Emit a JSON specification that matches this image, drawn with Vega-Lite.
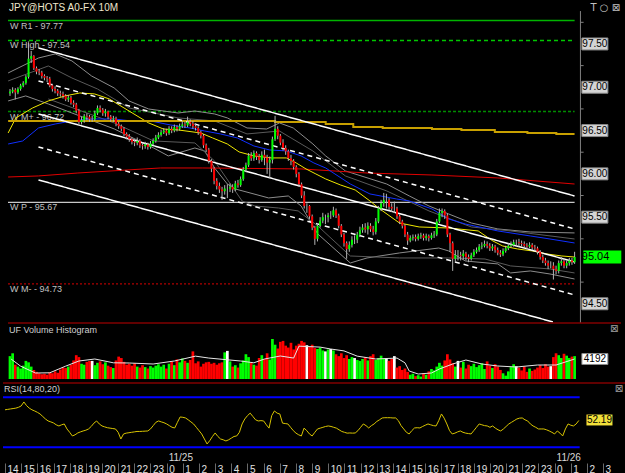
{
"$schema":"https://vega.github.io/schema/vega-lite/v6.json",
"background":"#000000",
"padding":{"left":2,"top":2,"right":0,"bottom":0},
"spacing":0,
"bounds":"flush",
"config":{"view":{"stroke":null},"text":{"font":"Liberation Sans"}},
"datasets":{
"bars":[
{"i":0,"o":96.93,"h":96.98,"l":96.90,"c":96.95,"v":4800,"r":65},
{"i":1,"o":96.95,"h":97.00,"l":96.93,"c":96.97,"v":5400,"r":65.5},
{"i":2,"o":96.97,"h":96.99,"l":96.86,"c":96.94,"v":3000,"r":66},
{"i":3,"o":96.94,"h":97.00,"l":96.92,"c":96.98,"v":2600,"r":66.5},
{"i":4,"o":96.98,"h":97.04,"l":96.96,"c":97.02,"v":2200,"r":67},
{"i":5,"o":97.02,"h":97.07,"l":97.00,"c":97.05,"v":2800,"r":68},
{"i":6,"o":97.05,"h":97.14,"l":97.03,"c":97.12,"v":3800,"r":69.6},
{"i":7,"o":97.12,"h":97.52,"l":97.10,"c":97.33,"v":3500,"r":74.4},
{"i":8,"o":97.33,"h":97.42,"l":97.28,"c":97.36,"v":2600,"r":70},
{"i":9,"o":97.36,"h":97.37,"l":97.20,"c":97.22,"v":1900,"r":67},
{"i":10,"o":97.22,"h":97.24,"l":97.15,"c":97.18,"v":1500,"r":65},
{"i":11,"o":97.18,"h":97.21,"l":97.14,"c":97.17,"v":1200,"r":63.6},
{"i":12,"o":97.17,"h":97.19,"l":97.10,"c":97.13,"v":1000,"r":62},
{"i":13,"o":97.13,"h":97.15,"l":97.08,"c":97.11,"v":1100,"r":60},
{"i":14,"o":97.11,"h":97.13,"l":97.06,"c":97.10,"v":900,"r":57},
{"i":15,"o":97.10,"h":97.12,"l":97.00,"c":97.02,"v":1400,"r":54},
{"i":16,"o":97.02,"h":97.04,"l":96.95,"c":96.98,"v":1200,"r":51.6},
{"i":17,"o":96.98,"h":97.01,"l":96.93,"c":96.96,"v":1600,"r":50.5},
{"i":18,"o":96.96,"h":96.98,"l":96.90,"c":96.93,"v":1300,"r":49.2},
{"i":19,"o":96.93,"h":96.96,"l":96.89,"c":96.92,"v":2000,"r":47},
{"i":20,"o":96.92,"h":96.95,"l":96.87,"c":96.90,"v":2400,"r":45.6},
{"i":21,"o":96.90,"h":96.92,"l":96.84,"c":96.86,"v":2300,"r":47},
{"i":22,"o":96.86,"h":96.91,"l":96.83,"c":96.88,"v":2600,"r":48},
{"i":23,"o":96.88,"h":96.90,"l":96.80,"c":96.82,"v":3000,"r":42},
{"i":24,"o":96.82,"h":96.85,"l":96.77,"c":96.80,"v":3900,"r":38},
{"i":25,"o":96.80,"h":96.82,"l":96.70,"c":96.73,"v":5000,"r":33.6},
{"i":26,"o":96.73,"h":96.75,"l":96.57,"c":96.60,"v":4600,"r":35},
{"i":27,"o":96.60,"h":96.66,"l":96.57,"c":96.62,"v":3200,"r":37.2},
{"i":28,"o":96.62,"h":96.69,"l":96.59,"c":96.67,"v":3000,"r":38.5},
{"i":29,"o":96.67,"h":96.70,"l":96.62,"c":96.66,"v":3600,"r":39.6},
{"i":30,"o":96.66,"h":96.68,"l":96.60,"c":96.63,"v":3800,"r":40.5},
{"i":31,"o":96.63,"h":96.67,"l":96.60,"c":96.63,"v":3800,"r":42},
{"i":32,"o":96.63,"h":96.73,"l":96.61,"c":96.70,"v":2900,"r":45},
{"i":33,"o":96.70,"h":96.79,"l":96.68,"c":96.76,"v":3400,"r":49},
{"i":34,"o":96.76,"h":96.79,"l":96.71,"c":96.74,"v":3700,"r":51.6},
{"i":35,"o":96.74,"h":96.76,"l":96.67,"c":96.70,"v":3100,"r":48},
{"i":36,"o":96.70,"h":96.75,"l":96.66,"c":96.72,"v":3500,"r":45.6},
{"i":37,"o":96.72,"h":96.73,"l":96.63,"c":96.66,"v":2800,"r":44.5},
{"i":38,"o":96.66,"h":96.68,"l":96.60,"c":96.63,"v":2500,"r":43.5},
{"i":39,"o":96.63,"h":96.67,"l":96.60,"c":96.64,"v":2300,"r":43},
{"i":40,"o":96.64,"h":96.66,"l":96.55,"c":96.58,"v":3900,"r":42.5},
{"i":41,"o":96.58,"h":96.60,"l":96.52,"c":96.55,"v":4700,"r":42},
{"i":42,"o":96.55,"h":96.57,"l":96.49,"c":96.52,"v":4400,"r":38},
{"i":43,"o":96.52,"h":96.54,"l":96.43,"c":96.46,"v":3600,"r":30},
{"i":44,"o":96.46,"h":96.48,"l":96.40,"c":96.43,"v":3000,"r":36},
{"i":45,"o":96.43,"h":96.46,"l":96.37,"c":96.40,"v":3200,"r":37},
{"i":46,"o":96.40,"h":96.42,"l":96.34,"c":96.37,"v":2800,"r":37.5},
{"i":47,"o":96.37,"h":96.40,"l":96.32,"c":96.36,"v":3300,"r":38},
{"i":48,"o":96.36,"h":96.42,"l":96.33,"c":96.38,"v":2600,"r":38.5},
{"i":49,"o":96.38,"h":96.40,"l":96.30,"c":96.33,"v":2400,"r":39},
{"i":50,"o":96.33,"h":96.36,"l":96.28,"c":96.32,"v":2900,"r":39},
{"i":51,"o":96.32,"h":96.37,"l":96.29,"c":96.34,"v":2500,"r":39.2},
{"i":52,"o":96.34,"h":96.36,"l":96.28,"c":96.31,"v":2200,"r":39.4},
{"i":53,"o":96.31,"h":96.38,"l":96.29,"c":96.35,"v":2700,"r":39.6},
{"i":54,"o":96.35,"h":96.41,"l":96.33,"c":96.38,"v":2400,"r":42},
{"i":55,"o":96.38,"h":96.45,"l":96.36,"c":96.42,"v":2800,"r":46},
{"i":56,"o":96.42,"h":96.48,"l":96.40,"c":96.45,"v":3100,"r":50},
{"i":57,"o":96.45,"h":96.51,"l":96.43,"c":96.48,"v":2600,"r":51.6},
{"i":58,"o":96.48,"h":96.53,"l":96.46,"c":96.50,"v":3000,"r":50.5},
{"i":59,"o":96.50,"h":96.52,"l":96.44,"c":96.47,"v":2200,"r":49.5},
{"i":60,"o":96.47,"h":96.55,"l":96.45,"c":96.52,"v":3200,"r":48},
{"i":61,"o":96.52,"h":96.55,"l":96.47,"c":96.50,"v":3600,"r":46},
{"i":62,"o":96.50,"h":96.57,"l":96.48,"c":96.54,"v":2900,"r":44},
{"i":63,"o":96.54,"h":96.56,"l":96.49,"c":96.52,"v":4100,"r":43.2},
{"i":64,"o":96.52,"h":96.58,"l":96.50,"c":96.55,"v":3500,"r":50},
{"i":65,"o":96.55,"h":96.61,"l":96.53,"c":96.57,"v":4300,"r":56.4},
{"i":66,"o":96.57,"h":96.60,"l":96.53,"c":96.56,"v":3800,"r":56},
{"i":67,"o":96.56,"h":96.66,"l":96.54,"c":96.60,"v":3400,"r":55.2},
{"i":68,"o":96.60,"h":96.63,"l":96.55,"c":96.58,"v":4000,"r":53},
{"i":69,"o":96.58,"h":96.61,"l":96.52,"c":96.55,"v":5800,"r":50.5},
{"i":70,"o":96.55,"h":96.58,"l":96.50,"c":96.53,"v":3300,"r":48},
{"i":71,"o":96.53,"h":96.55,"l":96.45,"c":96.48,"v":3700,"r":44},
{"i":72,"o":96.48,"h":96.50,"l":96.41,"c":96.44,"v":2600,"r":40},
{"i":73,"o":96.44,"h":96.46,"l":96.30,"c":96.33,"v":3200,"r":36},
{"i":74,"o":96.33,"h":96.35,"l":96.25,"c":96.28,"v":3500,"r":30},
{"i":75,"o":96.28,"h":96.30,"l":96.12,"c":96.15,"v":3600,"r":24},
{"i":76,"o":96.15,"h":96.17,"l":96.02,"c":96.06,"v":3200,"r":28},
{"i":77,"o":96.06,"h":96.08,"l":95.88,"c":95.92,"v":3400,"r":33},
{"i":78,"o":95.92,"h":95.95,"l":95.82,"c":95.86,"v":3000,"r":37.2},
{"i":79,"o":95.86,"h":95.90,"l":95.78,"c":95.82,"v":3300,"r":33},
{"i":80,"o":95.82,"h":95.85,"l":95.70,"c":95.80,"v":3500,"r":30},
{"i":81,"o":95.80,"h":95.87,"l":95.76,"c":95.83,"v":5600,"r":29},
{"i":82,"o":95.83,"h":95.88,"l":95.72,"c":95.83,"v":5900,"r":27.6},
{"i":83,"o":95.83,"h":95.89,"l":95.79,"c":95.85,"v":3700,"r":29},
{"i":84,"o":95.85,"h":95.88,"l":95.78,"c":95.82,"v":2600,"r":31},
{"i":85,"o":95.82,"h":95.92,"l":95.80,"c":95.89,"v":2900,"r":33},
{"i":86,"o":95.89,"h":95.93,"l":95.84,"c":95.87,"v":2400,"r":33.6},
{"i":87,"o":95.87,"h":95.97,"l":95.85,"c":95.94,"v":3300,"r":38},
{"i":88,"o":95.94,"h":96.08,"l":95.92,"c":96.05,"v":3900,"r":48},
{"i":89,"o":96.05,"h":96.13,"l":96.02,"c":96.10,"v":5200,"r":54},
{"i":90,"o":96.10,"h":96.24,"l":96.08,"c":96.21,"v":4600,"r":58},
{"i":91,"o":96.21,"h":96.25,"l":96.15,"c":96.18,"v":3400,"r":61},
{"i":92,"o":96.18,"h":96.27,"l":96.15,"c":96.24,"v":3000,"r":57},
{"i":93,"o":96.24,"h":96.26,"l":96.16,"c":96.20,"v":2800,"r":53},
{"i":94,"o":96.20,"h":96.23,"l":96.12,"c":96.16,"v":4400,"r":51.6},
{"i":95,"o":96.16,"h":96.26,"l":96.14,"c":96.22,"v":5000,"r":52},
{"i":96,"o":96.22,"h":96.28,"l":96.10,"c":96.19,"v":4200,"r":51.6},
{"i":97,"o":96.19,"h":96.22,"l":96.00,"c":96.13,"v":5400,"r":47},
{"i":98,"o":96.13,"h":96.20,"l":95.95,"c":96.16,"v":4100,"r":43},
{"i":99,"o":96.16,"h":96.43,"l":96.12,"c":96.40,"v":8400,"r":58},
{"i":100,"o":96.40,"h":96.67,"l":96.38,"c":96.52,"v":7200,"r":63.6},
{"i":101,"o":96.52,"h":96.55,"l":96.40,"c":96.44,"v":6400,"r":61},
{"i":102,"o":96.44,"h":96.46,"l":96.33,"c":96.36,"v":7800,"r":60},
{"i":103,"o":96.36,"h":96.40,"l":96.27,"c":96.30,"v":8000,"r":49},
{"i":104,"o":96.30,"h":96.33,"l":96.22,"c":96.26,"v":7000,"r":48.5},
{"i":105,"o":96.26,"h":96.28,"l":96.15,"c":96.18,"v":6600,"r":48},
{"i":106,"o":96.18,"h":96.22,"l":96.10,"c":96.15,"v":7600,"r":44},
{"i":107,"o":96.15,"h":96.17,"l":96.05,"c":96.08,"v":6200,"r":40},
{"i":108,"o":96.08,"h":96.10,"l":95.96,"c":96.00,"v":7000,"r":37},
{"i":109,"o":96.00,"h":96.02,"l":95.85,"c":95.88,"v":7400,"r":35},
{"i":110,"o":95.88,"h":95.90,"l":95.72,"c":95.75,"v":8000,"r":33.6},
{"i":111,"o":95.75,"h":95.80,"l":95.60,"c":95.63,"v":7700,"r":43},
{"i":112,"o":95.63,"h":95.66,"l":95.55,"c":95.63,"v":7100,"r":40},
{"i":113,"o":95.63,"h":95.64,"l":95.48,"c":95.51,"v":6800,"r":36},
{"i":114,"o":95.51,"h":95.53,"l":95.35,"c":95.38,"v":7200,"r":33.6},
{"i":115,"o":95.38,"h":95.40,"l":95.18,"c":95.25,"v":6500,"r":38},
{"i":116,"o":95.25,"h":95.43,"l":95.22,"c":95.40,"v":6300,"r":42},
{"i":117,"o":95.40,"h":95.50,"l":95.38,"c":95.46,"v":6600,"r":43},
{"i":118,"o":95.46,"h":95.55,"l":95.43,"c":95.50,"v":6000,"r":44},
{"i":119,"o":95.50,"h":95.53,"l":95.42,"c":95.50,"v":5800,"r":45},
{"i":120,"o":95.50,"h":95.55,"l":95.44,"c":95.52,"v":6200,"r":45.6},
{"i":121,"o":95.52,"h":95.57,"l":95.48,"c":95.52,"v":6300,"r":45},
{"i":122,"o":95.52,"h":95.62,"l":95.50,"c":95.58,"v":6000,"r":44},
{"i":123,"o":95.58,"h":95.60,"l":95.49,"c":95.52,"v":5200,"r":43},
{"i":124,"o":95.52,"h":95.54,"l":95.37,"c":95.40,"v":4800,"r":41},
{"i":125,"o":95.40,"h":95.42,"l":95.27,"c":95.30,"v":5400,"r":39},
{"i":126,"o":95.30,"h":95.32,"l":95.16,"c":95.20,"v":4400,"r":38},
{"i":127,"o":95.20,"h":95.22,"l":95.02,"c":95.13,"v":5000,"r":37},
{"i":128,"o":95.13,"h":95.22,"l":95.10,"c":95.18,"v":4200,"r":37.2},
{"i":129,"o":95.18,"h":95.28,"l":95.15,"c":95.24,"v":4600,"r":37},
{"i":130,"o":95.24,"h":95.29,"l":95.19,"c":95.24,"v":4400,"r":37.2},
{"i":131,"o":95.24,"h":95.33,"l":95.20,"c":95.30,"v":4000,"r":40},
{"i":132,"o":95.30,"h":95.39,"l":95.27,"c":95.35,"v":3800,"r":44},
{"i":133,"o":95.35,"h":95.42,"l":95.32,"c":95.38,"v":4200,"r":48},
{"i":134,"o":95.38,"h":95.43,"l":95.32,"c":95.36,"v":4600,"r":46},
{"i":135,"o":95.36,"h":95.44,"l":95.30,"c":95.40,"v":3900,"r":43.2},
{"i":136,"o":95.40,"h":95.43,"l":95.33,"c":95.36,"v":4800,"r":46},
{"i":137,"o":95.36,"h":95.40,"l":95.29,"c":95.33,"v":5200,"r":48},
{"i":138,"o":95.33,"h":95.49,"l":95.30,"c":95.45,"v":4000,"r":51},
{"i":139,"o":95.45,"h":95.63,"l":95.43,"c":95.60,"v":4400,"r":53},
{"i":140,"o":95.60,"h":95.70,"l":95.57,"c":95.66,"v":4900,"r":55.2},
{"i":141,"o":95.66,"h":95.78,"l":95.62,"c":95.70,"v":4300,"r":55.5},
{"i":142,"o":95.70,"h":95.77,"l":95.60,"c":95.70,"v":4400,"r":55.5},
{"i":143,"o":95.70,"h":95.72,"l":95.58,"c":95.62,"v":3800,"r":55.5},
{"i":144,"o":95.62,"h":95.66,"l":95.56,"c":95.60,"v":4200,"r":55.2},
{"i":145,"o":95.60,"h":95.68,"l":95.55,"c":95.60,"v":4800,"r":55.2},
{"i":146,"o":95.60,"h":95.62,"l":95.48,"c":95.51,"v":2400,"r":52},
{"i":147,"o":95.51,"h":95.53,"l":95.42,"c":95.45,"v":2700,"r":46},
{"i":148,"o":95.45,"h":95.47,"l":95.37,"c":95.40,"v":1900,"r":42},
{"i":149,"o":95.40,"h":95.42,"l":95.27,"c":95.30,"v":2200,"r":38},
{"i":150,"o":95.30,"h":95.33,"l":95.18,"c":95.23,"v":1500,"r":36},
{"i":151,"o":95.23,"h":95.29,"l":95.21,"c":95.26,"v":900,"r":40},
{"i":152,"o":95.26,"h":95.30,"l":95.23,"c":95.27,"v":1100,"r":43.2},
{"i":153,"o":95.27,"h":95.30,"l":95.22,"c":95.25,"v":600,"r":43.5},
{"i":154,"o":95.25,"h":95.31,"l":95.23,"c":95.28,"v":800,"r":43.2},
{"i":155,"o":95.28,"h":95.32,"l":95.25,"c":95.29,"v":500,"r":45},
{"i":156,"o":95.29,"h":95.31,"l":95.23,"c":95.26,"v":1200,"r":46.5},
{"i":157,"o":95.26,"h":95.31,"l":95.23,"c":95.28,"v":900,"r":48},
{"i":158,"o":95.28,"h":95.30,"l":95.22,"c":95.26,"v":1600,"r":47},
{"i":159,"o":95.26,"h":95.32,"l":95.24,"c":95.29,"v":2100,"r":46},
{"i":160,"o":95.29,"h":95.34,"l":95.26,"c":95.30,"v":1800,"r":45.6},
{"i":161,"o":95.30,"h":95.48,"l":95.28,"c":95.45,"v":2600,"r":52},
{"i":162,"o":95.45,"h":95.60,"l":95.43,"c":95.55,"v":3400,"r":60},
{"i":163,"o":95.55,"h":95.60,"l":95.50,"c":95.57,"v":2800,"r":55},
{"i":164,"o":95.57,"h":95.59,"l":95.48,"c":95.52,"v":3900,"r":48},
{"i":165,"o":95.52,"h":95.54,"l":95.27,"c":95.30,"v":5200,"r":40},
{"i":166,"o":95.30,"h":95.32,"l":95.10,"c":95.20,"v":4100,"r":36},
{"i":167,"o":95.20,"h":95.22,"l":94.88,"c":95.02,"v":3300,"r":37},
{"i":168,"o":95.02,"h":95.12,"l":94.98,"c":95.06,"v":2600,"r":38.5},
{"i":169,"o":95.06,"h":95.12,"l":95.00,"c":95.06,"v":3800,"r":39.6},
{"i":170,"o":95.06,"h":95.10,"l":95.00,"c":95.05,"v":2400,"r":38},
{"i":171,"o":95.05,"h":95.12,"l":95.01,"c":95.08,"v":3600,"r":37},
{"i":172,"o":95.08,"h":95.10,"l":95.00,"c":95.04,"v":2200,"r":36.5},
{"i":173,"o":95.04,"h":95.07,"l":94.98,"c":95.02,"v":3000,"r":36},
{"i":174,"o":95.02,"h":95.09,"l":95.00,"c":95.06,"v":2700,"r":40},
{"i":175,"o":95.06,"h":95.13,"l":95.04,"c":95.10,"v":3200,"r":44},
{"i":176,"o":95.10,"h":95.15,"l":95.08,"c":95.12,"v":2500,"r":48},
{"i":177,"o":95.12,"h":95.19,"l":95.10,"c":95.16,"v":2900,"r":47},
{"i":178,"o":95.16,"h":95.21,"l":95.13,"c":95.17,"v":3300,"r":46},
{"i":179,"o":95.17,"h":95.23,"l":95.15,"c":95.19,"v":2100,"r":45.6},
{"i":180,"o":95.19,"h":95.22,"l":95.14,"c":95.17,"v":3700,"r":44},
{"i":181,"o":95.17,"h":95.20,"l":95.11,"c":95.14,"v":2800,"r":45.6},
{"i":182,"o":95.14,"h":95.19,"l":95.11,"c":95.16,"v":2300,"r":43},
{"i":183,"o":95.16,"h":95.18,"l":95.09,"c":95.12,"v":3100,"r":41},
{"i":184,"o":95.12,"h":95.15,"l":95.06,"c":95.09,"v":2600,"r":39.6},
{"i":185,"o":95.09,"h":95.12,"l":95.04,"c":95.07,"v":1900,"r":42},
{"i":186,"o":95.07,"h":95.14,"l":95.05,"c":95.11,"v":1200,"r":45},
{"i":187,"o":95.11,"h":95.17,"l":95.09,"c":95.14,"v":700,"r":48},
{"i":188,"o":95.14,"h":95.20,"l":95.12,"c":95.17,"v":1600,"r":50},
{"i":189,"o":95.17,"h":95.22,"l":95.15,"c":95.18,"v":2500,"r":52},
{"i":190,"o":95.18,"h":95.24,"l":95.16,"c":95.21,"v":3100,"r":54},
{"i":191,"o":95.21,"h":95.24,"l":95.17,"c":95.21,"v":2700,"r":55},
{"i":192,"o":95.21,"h":95.25,"l":95.16,"c":95.20,"v":2400,"r":55.2},
{"i":193,"o":95.20,"h":95.23,"l":95.16,"c":95.19,"v":1800,"r":53},
{"i":194,"o":95.19,"h":95.22,"l":95.14,"c":95.17,"v":2600,"r":51.6},
{"i":195,"o":95.17,"h":95.20,"l":95.13,"c":95.16,"v":1500,"r":48},
{"i":196,"o":95.16,"h":95.21,"l":95.14,"c":95.18,"v":2200,"r":45.6},
{"i":197,"o":95.18,"h":95.20,"l":95.12,"c":95.15,"v":1700,"r":44},
{"i":198,"o":95.15,"h":95.18,"l":95.11,"c":95.14,"v":2000,"r":42},
{"i":199,"o":95.14,"h":95.16,"l":95.07,"c":95.10,"v":2400,"r":42},
{"i":200,"o":95.10,"h":95.12,"l":95.01,"c":95.04,"v":2900,"r":42},
{"i":201,"o":95.04,"h":95.07,"l":94.97,"c":95.00,"v":2300,"r":41},
{"i":202,"o":95.00,"h":95.03,"l":94.94,"c":94.97,"v":3100,"r":39.6},
{"i":203,"o":94.97,"h":95.00,"l":94.90,"c":94.94,"v":2600,"r":38},
{"i":204,"o":94.94,"h":94.99,"l":94.91,"c":94.94,"v":2700,"r":36},
{"i":205,"o":94.94,"h":94.98,"l":94.78,"c":94.90,"v":4600,"r":39.6},
{"i":206,"o":94.90,"h":94.94,"l":94.84,"c":94.88,"v":5400,"r":37},
{"i":207,"o":94.88,"h":95.00,"l":94.85,"c":94.97,"v":5000,"r":33.6},
{"i":208,"o":94.97,"h":95.04,"l":94.94,"c":94.99,"v":4400,"r":42},
{"i":209,"o":94.99,"h":95.02,"l":94.91,"c":94.94,"v":5300,"r":48},
{"i":210,"o":94.94,"h":95.00,"l":94.91,"c":94.97,"v":4900,"r":46.5},
{"i":211,"o":94.97,"h":95.03,"l":94.94,"c":95.00,"v":4400,"r":45.6},
{"i":212,"o":95.00,"h":95.03,"l":94.95,"c":94.98,"v":4700,"r":48},
{"i":213,"o":94.98,"h":95.10,"l":94.96,"c":95.04,"v":4800,"r":52.19}
],
"ma":[
{"s":"U1","i":-0.7,"p":97.165},{"s":"U1","i":10.75,"p":97.338},{"s":"U1","i":17.06,"p":97.385},{"s":"U1","i":23.37,"p":97.304},{"s":"U1","i":30.79,"p":97.130},{"s":"U1","i":39.32,"p":96.992},{"s":"U1","i":44.89,"p":96.842},{"s":"U1","i":52.32,"p":96.749},{"s":"U1","i":63.45,"p":96.703},{"s":"U1","i":69.75,"p":96.726},{"s":"U1","i":77.17,"p":96.692},{"s":"U1","i":82.0,"p":96.646},{"s":"U1","i":89.42,"p":96.530},{"s":"U1","i":96.84,"p":96.518},{"s":"U1","i":101.66,"p":96.588},{"s":"U1","i":106.86,"p":96.530},{"s":"U1","i":114.28,"p":96.345},{"s":"U1","i":119.1,"p":96.207},{"s":"U1","i":126.52,"p":96.034},{"s":"U1","i":142.11,"p":95.883},{"s":"U1","i":150.64,"p":95.745},{"s":"U1","i":158.06,"p":95.629},{"s":"U1","i":165.48,"p":95.537},{"s":"U1","i":174.02,"p":95.433},{"s":"U1","i":184.04,"p":95.364},{"s":"U1","i":196.28,"p":95.329},{"s":"U1","i":212.98,"p":95.318},
{"s":"U2","i":-0.7,"p":97.073},{"s":"U2","i":14.46,"p":97.246},{"s":"U2","i":23.37,"p":97.107},{"s":"U2","i":33.02,"p":96.980},{"s":"U2","i":44.89,"p":96.761},{"s":"U2","i":63.45,"p":96.646},{"s":"U2","i":77.17,"p":96.611},{"s":"U2","i":89.42,"p":96.461},{"s":"U2","i":101.66,"p":96.495},{"s":"U2","i":114.28,"p":96.264},{"s":"U2","i":126.52,"p":95.976},{"s":"U2","i":142.11,"p":95.803},{"s":"U2","i":158.06,"p":95.572},{"s":"U2","i":174.02,"p":95.387},{"s":"U2","i":188.86,"p":95.341},{"s":"U2","i":212.98,"p":95.248},
{"s":"L1","i":-0.7,"p":96.842},{"s":"L1","i":5.93,"p":96.900},{"s":"L1","i":14.46,"p":96.807},{"s":"L1","i":23.37,"p":96.703},{"s":"L1","i":39.32,"p":96.519},{"s":"L1","i":54.17,"p":96.299},{"s":"L1","i":59.73,"p":96.207},{"s":"L1","i":69.75,"p":96.299},{"s":"L1","i":73.46,"p":96.264},{"s":"L1","i":77.17,"p":96.068},{"s":"L1","i":82.0,"p":95.883},{"s":"L1","i":84.96,"p":95.826},{"s":"L1","i":97.58,"p":95.722},{"s":"L1","i":105.0,"p":95.745},{"s":"L1","i":109.83,"p":95.629},{"s":"L1","i":116.13,"p":95.306},{"s":"L1","i":128.38,"p":94.971},{"s":"L1","i":134.69,"p":95.029},{"s":"L1","i":146.93,"p":95.087},{"s":"L1","i":161.77,"p":95.144},{"s":"L1","i":165.48,"p":95.110},{"s":"L1","i":171.79,"p":94.994},{"s":"L1","i":184.04,"p":94.960},{"s":"L1","i":188.86,"p":94.856},{"s":"L1","i":196.28,"p":94.879},{"s":"L1","i":203.7,"p":94.844},{"s":"L1","i":212.98,"p":94.786},
{"s":"L2","i":14.46,"p":96.865},{"s":"L2","i":39.32,"p":96.588},{"s":"L2","i":54.17,"p":96.380},{"s":"L2","i":69.75,"p":96.357},{"s":"L2","i":77.17,"p":96.149},{"s":"L2","i":87.56,"p":95.687},{"s":"L2","i":92.39,"p":95.629},{"s":"L2","i":101.29,"p":95.606},{"s":"L2","i":108.71,"p":95.572},{"s":"L2","i":116.13,"p":95.398},{"s":"L2","i":128.38,"p":95.052},{"s":"L2","i":146.93,"p":95.029},{"s":"L2","i":165.48,"p":95.029},{"s":"L2","i":179.21,"p":95.017},{"s":"L2","i":188.86,"p":94.937},{"s":"L2","i":203.7,"p":94.902},{"s":"L2","i":212.98,"p":94.856},
{"s":"R","i":-0.7,"p":95.964},{"s":"R","i":10.75,"p":95.976},{"s":"R","i":25.6,"p":96.010},{"s":"R","i":44.15,"p":96.045},{"s":"R","i":56.76,"p":96.068},{"s":"R","i":72.72,"p":96.068},{"s":"R","i":109.83,"p":96.057},{"s":"R","i":134.69,"p":96.010},{"s":"R","i":159.18,"p":95.987},{"s":"R","i":184.04,"p":95.953},{"s":"R","i":212.98,"p":95.883},
{"s":"B","i":-0.7,"p":96.345},{"s":"B","i":4.82,"p":96.380},{"s":"B","i":10.75,"p":96.530},{"s":"B","i":17.06,"p":96.576},{"s":"B","i":23.37,"p":96.611},{"s":"B","i":29.31,"p":96.634},{"s":"B","i":39.33,"p":96.634},{"s":"B","i":45.63,"p":96.611},{"s":"B","i":53.05,"p":96.611},{"s":"B","i":60.47,"p":96.565},{"s":"B","i":67.9,"p":96.530},{"s":"B","i":73.46,"p":96.495},{"s":"B","i":79.4,"p":96.461},{"s":"B","i":85.71,"p":96.415},{"s":"B","i":92.01,"p":96.322},{"s":"B","i":97.95,"p":96.276},{"s":"B","i":104.25,"p":96.265},{"s":"B","i":109.83,"p":96.207},{"s":"B","i":114.65,"p":96.126},{"s":"B","i":119.1,"p":96.068},{"s":"B","i":128.38,"p":95.883},{"s":"B","i":135.8,"p":95.768},{"s":"B","i":145.82,"p":95.710},{"s":"B","i":150.64,"p":95.687},{"s":"B","i":159.18,"p":95.595},{"s":"B","i":165.48,"p":95.479},{"s":"B","i":171.79,"p":95.421},{"s":"B","i":184.04,"p":95.341},{"s":"B","i":196.28,"p":95.283},{"s":"B","i":203.7,"p":95.248},{"s":"B","i":212.98,"p":95.202},
{"s":"Y","i":-0.7,"p":96.472},{"s":"Y","i":2.22,"p":96.646},{"s":"Y","i":8.53,"p":96.761},{"s":"Y","i":14.46,"p":96.842},{"s":"Y","i":20.77,"p":96.900},{"s":"Y","i":26.34,"p":96.934},{"s":"Y","i":31.91,"p":96.923},{"s":"Y","i":37.47,"p":96.865},{"s":"Y","i":44.9,"p":96.726},{"s":"Y","i":52.32,"p":96.588},{"s":"Y","i":57.88,"p":96.518},{"s":"Y","i":63.45,"p":96.507},{"s":"Y","i":71.98,"p":96.472},{"s":"Y","i":76.43,"p":96.415},{"s":"Y","i":82.0,"p":96.345},{"s":"Y","i":86.45,"p":96.253},{"s":"Y","i":92.01,"p":96.207},{"s":"Y","i":98.69,"p":96.184},{"s":"Y","i":104.25,"p":96.184},{"s":"Y","i":107.97,"p":96.126},{"s":"Y","i":111.68,"p":96.057},{"s":"Y","i":115.39,"p":95.999},{"s":"Y","i":119.1,"p":95.941},{"s":"Y","i":124.67,"p":95.872},{"s":"Y","i":130.23,"p":95.814},{"s":"Y","i":135.8,"p":95.687},{"s":"Y","i":139.51,"p":95.595},{"s":"Y","i":146.93,"p":95.433},{"s":"Y","i":154.35,"p":95.387},{"s":"Y","i":165.48,"p":95.375},{"s":"Y","i":176.62,"p":95.341},{"s":"Y","i":182.18,"p":95.225},{"s":"Y","i":185.89,"p":95.167},{"s":"Y","i":191.46,"p":95.133},{"s":"Y","i":197.02,"p":95.110},{"s":"Y","i":202.59,"p":95.075},{"s":"Y","i":208.15,"p":95.052},{"s":"Y","i":212.97,"p":95.040}
],
"gold":[{"i":-0.7,"p":96.611},{"i":44.9,"p":96.611},{"i":100,"p":96.60},{"i":119.1,"p":96.576},{"i":129.5,"p":96.542},{"i":140.6,"p":96.530},{"i":159.18,"p":96.518},{"i":170.3,"p":96.507},{"i":182.9,"p":96.484},{"i":195.2,"p":96.472},{"i":206.1,"p":96.461},{"i":212.98,"p":96.461}],
"ch":[{"s":"U","i":10.75,"p":97.454},{"s":"U","i":212.98,"p":95.745},{"s":"UD","i":10.75,"p":97.073},{"s":"UD","i":212.98,"p":95.364},{"s":"M","i":10.75,"p":96.692},{"s":"M","i":212.98,"p":94.983},{"s":"LD","i":10.75,"p":96.311},{"s":"LD","i":212.98,"p":94.602},{"s":"L","i":10.75,"p":95.930},{"s":"L","i":204.8,"p":94.29}],
"lev":[{"n":"R1","p":97.77,"t":"W R1 - 97.77"},{"n":"High","p":97.54,"t":"W High - 97.54"},{"n":"M+","p":96.72,"t":"W M+ - 96.72"},{"n":"P","p":95.67,"t":"W P - 95.67"},{"n":"M-","p":94.73,"t":"W M- - 94.73"}],
"pl":[{"p":97.5,"t":"97.50"},{"p":97.0,"t":"97.00"},{"p":96.5,"t":"96.50"},{"p":96.0,"t":"96.00"},{"p":95.5,"t":"95.50"},{"p":94.5,"t":"94.50"}],
"pt":[{"p":97.75},{"p":97.25},{"p":96.75},{"p":96.25},{"p":95.75},{"p":95.25},{"p":94.75}],
"vma":[{"i":0.4,"v":4200},{"i":4,"v":2700},{"i":9.6,"v":1260},{"i":15,"v":1300},{"i":21,"v":2700},{"i":26,"v":3780},{"i":32,"v":4200},{"i":39,"v":3400},{"i":45,"v":3360},{"i":54,"v":3150},{"i":62,"v":3780},{"i":70,"v":4800},{"i":75,"v":4400},{"i":87,"v":3780},{"i":92,"v":3400},{"i":96,"v":4200},{"i":102,"v":4830},{"i":107,"v":4400},{"i":109,"v":6900},{"i":117,"v":6700},{"i":121,"v":6300},{"i":126,"v":5900},{"i":131,"v":4800},{"i":138,"v":4200},{"i":146,"v":4400},{"i":149,"v":3400},{"i":150.6,"v":1680},{"i":154,"v":1050},{"i":159,"v":1260},{"i":162,"v":2100},{"i":167,"v":3150},{"i":172,"v":3990},{"i":178,"v":3150},{"i":184,"v":2730},{"i":191,"v":2520},{"i":199,"v":2940},{"i":206,"v":2940},{"i":213,"v":4200}]
},
"vconcat":[
{"width":623,"height":320,
"resolve":{"scale":{"color":"independent","strokeDash":"independent","strokeWidth":"independent"}},
"layer":[
{"data":{"name":"lev"},"mark":{"type":"rule"},
 "encoding":{
  "x":{"datum":-0.75,"type":"quantitative","scale":{"domain":[-0.75,230.5],"nice":false,"zero":false},"axis":null},
  "x2":{"datum":213},
  "y":{"field":"p","type":"quantitative","scale":{"domain":[94.278,97.973],"nice":false,"zero":false},"axis":null},
  "color":{"field":"n","type":"nominal","scale":{"domain":["R1","High","M+","P","M-"],"range":["#00b400","#00c800","#008c00","#c8c8c8","#b00000"]},"legend":null},
  "strokeDash":{"field":"n","type":"nominal","scale":{"domain":["R1","High","M+","P","M-"],"range":[[1,0],[4,3],[3,2],[1,0],[2,2]]},"legend":null},
  "strokeWidth":{"field":"n","type":"ordinal","scale":{"domain":["R1","High","M+","P","M-"],"range":[1.5,1.2,1,2,1]},"legend":null}}},
{"data":{"name":"lev"},"mark":{"type":"text","align":"left","baseline":"middle","dx":2,"dy":5,"fontSize":9,"color":"#c0c0c0"},
 "encoding":{
  "x":{"datum":-0.75,"type":"quantitative","scale":{"domain":[-0.75,230.5],"nice":false,"zero":false},"axis":null},
  "y":{"field":"p","type":"quantitative","scale":{"domain":[94.278,97.973],"nice":false,"zero":false},"axis":null},
  "text":{"field":"t"}}},
{"data":{"name":"ma"},"mark":{"type":"line"},
 "encoding":{
  "x":{"field":"i","type":"quantitative","scale":{"domain":[-0.75,230.5],"nice":false,"zero":false},"axis":null},
  "y":{"field":"p","type":"quantitative","scale":{"domain":[94.278,97.973],"nice":false,"zero":false},"axis":null},
  "color":{"field":"s","type":"nominal","scale":{"domain":["U1","U2","L1","L2","R","B","Y"],"range":["#8c8c8c","#5a5a5a","#8c8c8c","#5a5a5a","#e00000","#1030ff","#f0e800"]},"legend":null},
  "strokeWidth":{"field":"s","type":"ordinal","scale":{"domain":["U1","U2","L1","L2","R","B","Y"],"range":[1,1,1,1,1.6,1.5,1.3]},"legend":null}}},
{"data":{"name":"gold"},"mark":{"type":"line","interpolate":"step-after","color":"#c8a000","strokeWidth":2},
 "encoding":{
  "x":{"field":"i","type":"quantitative","scale":{"domain":[-0.75,230.5],"nice":false,"zero":false},"axis":null},
  "y":{"field":"p","type":"quantitative","scale":{"domain":[94.278,97.973],"nice":false,"zero":false},"axis":null}}},
{"data":{"name":"ch"},"mark":{"type":"line","color":"#ffffff","strokeWidth":1.5},
 "encoding":{
  "x":{"field":"i","type":"quantitative","scale":{"domain":[-0.75,230.5],"nice":false,"zero":false},"axis":null},
  "y":{"field":"p","type":"quantitative","scale":{"domain":[94.278,97.973],"nice":false,"zero":false},"axis":null},
  "detail":{"field":"s"},
  "strokeDash":{"field":"s","type":"nominal","scale":{"domain":["U","UD","M","LD","L"],"range":[[1,0],[5,4],[1,0],[5,4],[1,0]]},"legend":null}}},
{"data":{"name":"bars"},"mark":{"type":"rule","color":"#b4b4b4","strokeWidth":1},
 "encoding":{
  "x":{"field":"i","type":"quantitative","scale":{"domain":[-0.75,230.5],"nice":false,"zero":false},"axis":null},
  "y":{"field":"l","type":"quantitative","scale":{"domain":[94.278,97.973],"nice":false,"zero":false},"axis":null},
  "y2":{"field":"h"}}},
{"data":{"name":"bars"},"mark":{"type":"bar","size":2},
 "encoding":{
  "x":{"field":"i","type":"quantitative","scale":{"domain":[-0.75,230.5],"nice":false,"zero":false},"axis":null},
  "y":{"field":"o","type":"quantitative","scale":{"domain":[94.278,97.973],"nice":false,"zero":false},"axis":null},
  "y2":{"field":"c"},
  "color":{"condition":[{"test":"datum.c > datum.o","value":"#00ff00"},{"test":"datum.c < datum.o","value":"#ff0000"}],"value":"#ffffff"}}},
{"data":{"values":[{}]},"mark":{"type":"rule","color":"#808080","strokeWidth":1},
 "encoding":{
  "x":{"datum":215.2,"type":"quantitative","scale":{"domain":[-0.75,230.5],"nice":false,"zero":false},"axis":null},
  "y":{"datum":94.278,"type":"quantitative","scale":{"domain":[94.278,97.973],"nice":false,"zero":false},"axis":null},
  "y2":{"datum":97.88}}},
{"data":{"name":"pt"},"mark":{"type":"rule","color":"#808080","strokeWidth":1},
 "encoding":{
  "x":{"datum":215.2,"type":"quantitative","scale":{"domain":[-0.75,230.5],"nice":false,"zero":false},"axis":null},
  "x2":{"datum":216.4},
  "y":{"field":"p","type":"quantitative","scale":{"domain":[94.278,97.973],"nice":false,"zero":false},"axis":null}}},
{"data":{"name":"pl"},"mark":{"type":"point","shape":"M-1,-0.46H1V0.46H-1Z","size":676,"filled":true,"fill":"#d4d4d4","stroke":"#8a8a8a","strokeWidth":1,"opacity":1},
 "encoding":{
  "x":{"datum":220.65,"type":"quantitative","scale":{"domain":[-0.75,230.5],"nice":false,"zero":false},"axis":null},
  "y":{"field":"p","type":"quantitative","scale":{"domain":[94.278,97.973],"nice":false,"zero":false},"axis":null}}},
{"data":{"name":"pl"},"mark":{"type":"text","align":"center","baseline":"middle","fontSize":10,"color":"#000000"},
 "encoding":{
  "x":{"datum":220.65,"type":"quantitative","scale":{"domain":[-0.75,230.5],"nice":false,"zero":false},"axis":null},
  "y":{"field":"p","type":"quantitative","scale":{"domain":[94.278,97.973],"nice":false,"zero":false},"axis":null},
  "text":{"field":"t"}}},
{"data":{"values":[{"p":95.04,"t":"95.04"}]},"mark":{"type":"point","shape":"M-1,-0.34H1V0.34H-1Z","size":1444,"filled":true,"fill":"#00ff00","opacity":1},
 "encoding":{
  "x":{"datum":223.45,"type":"quantitative","scale":{"domain":[-0.75,230.5],"nice":false,"zero":false},"axis":null},
  "y":{"field":"p","type":"quantitative","scale":{"domain":[94.278,97.973],"nice":false,"zero":false},"axis":null}}},
{"data":{"values":[{"p":95.04,"t":"95.04"}]},"mark":{"type":"text","align":"center","baseline":"middle","fontSize":11,"color":"#000000"},
 "encoding":{
  "x":{"datum":220.9,"type":"quantitative","scale":{"domain":[-0.75,230.5],"nice":false,"zero":false},"axis":null},
  "y":{"field":"p","type":"quantitative","scale":{"domain":[94.278,97.973],"nice":false,"zero":false},"axis":null},
  "text":{"field":"t"}}},
{"data":{"values":[{"t":"JPY@HOTS A0-FX 10M"}]},"mark":{"type":"text","align":"left","baseline":"middle","dx":1,"fontSize":10,"color":"#efe6cc"},
 "encoding":{
  "x":{"datum":-0.75,"type":"quantitative","scale":{"domain":[-0.75,230.5],"nice":false,"zero":false},"axis":null},
  "y":{"datum":97.916,"type":"quantitative","scale":{"domain":[94.278,97.973],"nice":false,"zero":false},"axis":null},
  "text":{"field":"t"}}},
{"data":{"values":[{"t":"T ○ ⊠"}]},"mark":{"type":"text","align":"center","baseline":"middle","font":"DejaVu Sans","fontSize":10,"color":"#c0c0c0"},
 "encoding":{
  "x":{"datum":224.6,"type":"quantitative","scale":{"domain":[-0.75,230.5],"nice":false,"zero":false},"axis":null},
  "y":{"datum":97.916,"type":"quantitative","scale":{"domain":[94.278,97.973],"nice":false,"zero":false},"axis":null},
  "text":{"field":"t"}}}
]},
{"width":623,"height":60,
"layer":[
{"data":{"name":"bars"},"mark":{"type":"bar","size":2.7},
 "encoding":{
  "x":{"field":"i","type":"quantitative","scale":{"domain":[-0.75,230.5],"nice":false,"zero":false},"axis":null},
  "y":{"field":"v","type":"quantitative","scale":{"domain":[-840,11760],"nice":false,"zero":false},"axis":null},
  "y2":{"datum":0},
  "color":{"condition":[{"test":"datum.c > datum.o","value":"#00ff00"},{"test":"datum.c < datum.o","value":"#ff0000"}],"value":"#ffffff"}}},
{"data":{"name":"vma"},"mark":{"type":"line","color":"#e6e6e6","strokeWidth":1},
 "encoding":{
  "x":{"field":"i","type":"quantitative","scale":{"domain":[-0.75,230.5],"nice":false,"zero":false},"axis":null},
  "y":{"field":"v","type":"quantitative","scale":{"domain":[-840,11760],"nice":false,"zero":false},"axis":null}}},
{"data":{"values":[{}]},"mark":{"type":"rule","color":"#800000","strokeWidth":1.5},
 "encoding":{
  "x":{"datum":-0.75,"type":"quantitative","scale":{"domain":[-0.75,230.5],"nice":false,"zero":false},"axis":null},
  "x2":{"datum":230.5},
  "y":{"datum":11760,"type":"quantitative","scale":{"domain":[-840,11760],"nice":false,"zero":false},"axis":null}}},
{"data":{"values":[{"t":"UF Volume Histogram"}]},"mark":{"type":"text","align":"left","baseline":"middle","dx":1,"fontSize":9,"color":"#d0d0d0"},
 "encoding":{
  "x":{"datum":-0.75,"type":"quantitative","scale":{"domain":[-0.75,230.5],"nice":false,"zero":false},"axis":null},
  "y":{"datum":10290,"type":"quantitative","scale":{"domain":[-840,11760],"nice":false,"zero":false},"axis":null},
  "text":{"field":"t"}}},
{"data":{"values":[{"v":4200}]},"mark":{"type":"point","shape":"M-1,-0.42H1V0.42H-1Z","size":676,"filled":true,"fill":"#ffffff","stroke":"#8a8a8a","strokeWidth":1,"opacity":1},
 "encoding":{
  "x":{"datum":220.65,"type":"quantitative","scale":{"domain":[-0.75,230.5],"nice":false,"zero":false},"axis":null},
  "y":{"field":"v","type":"quantitative","scale":{"domain":[-840,11760],"nice":false,"zero":false},"axis":null}}},
{"data":{"values":[{"v":4200,"t":"4192"}]},"mark":{"type":"text","align":"center","baseline":"middle","fontSize":10,"color":"#000000"},
 "encoding":{
  "x":{"datum":220.65,"type":"quantitative","scale":{"domain":[-0.75,230.5],"nice":false,"zero":false},"axis":null},
  "y":{"field":"v","type":"quantitative","scale":{"domain":[-840,11760],"nice":false,"zero":false},"axis":null},
  "text":{"field":"t"}}},
{"data":{"values":[{"t":"⊠"}]},"mark":{"type":"text","align":"center","baseline":"middle","font":"DejaVu Sans","fontSize":10,"color":"#a0a0a0"},
 "encoding":{
  "x":{"datum":227.9,"type":"quantitative","scale":{"domain":[-0.75,230.5],"nice":false,"zero":false},"axis":null},
  "y":{"datum":10500,"type":"quantitative","scale":{"domain":[-840,11760],"nice":false,"zero":false},"axis":null},
  "text":{"field":"t"}}}
]},
{"width":623,"height":80,
"layer":[
{"data":{"name":"bars"},"mark":{"type":"line","color":"#d8c400","strokeWidth":1},
 "encoding":{
  "x":{"field":"i","type":"quantitative","scale":{"domain":[-0.75,230.5],"nice":false,"zero":false},
   "axis":{"title":null,"values":[0,6,12,18,24,30,36,42,48,54,60,66,72,78,84,90,96,102,108,114,120,126,132,138,144,150,156,162,168,174,180,186,192,198,204,210,216,222],"labelExpr":"'' + ((14 + floor(datum.value / 6)) % 24)","labelAlign":"left","labelOffset":2,"labelBaseline":"middle","labelPadding":-5,"tickSize":11,"tickColor":"#6a6a6a","tickWidth":1,"domain":false,"grid":false,"labelColor":"#e0e0e0","labelFont":"Liberation Sans","labelFontSize":10,"labelOverlap":false,"labelBound":false,"labelFlush":false}},
  "y":{"field":"r","type":"quantitative","scale":{"domain":[1.16,97.16],"nice":false,"zero":false},"axis":null}}},
{"data":{"values":[{"r":80},{"r":20}]},"mark":{"type":"rule","color":"#0000ff","strokeWidth":2},
 "encoding":{
  "x":{"datum":-0.75,"type":"quantitative","scale":{"domain":[-0.75,230.5],"nice":false,"zero":false},
   "axis":{"title":null,"values":[0,6,12,18,24,30,36,42,48,54,60,66,72,78,84,90,96,102,108,114,120,126,132,138,144,150,156,162,168,174,180,186,192,198,204,210,216,222],"labelExpr":"'' + ((14 + floor(datum.value / 6)) % 24)","labelAlign":"left","labelOffset":2,"labelBaseline":"middle","labelPadding":-5,"tickSize":11,"tickColor":"#6a6a6a","tickWidth":1,"domain":false,"grid":false,"labelColor":"#e0e0e0","labelFont":"Liberation Sans","labelFontSize":10,"labelOverlap":false,"labelBound":false,"labelFlush":false}},
  "x2":{"datum":213.3},
  "y":{"field":"r","type":"quantitative","scale":{"domain":[1.16,97.16],"nice":false,"zero":false},"axis":null}}},
{"data":{"values":[{}]},"mark":{"type":"rule","color":"#800000","strokeWidth":1.5},
 "encoding":{
  "x":{"datum":-0.75,"type":"quantitative","scale":{"domain":[-0.75,230.5],"nice":false,"zero":false},
   "axis":{"title":null,"values":[0,6,12,18,24,30,36,42,48,54,60,66,72,78,84,90,96,102,108,114,120,126,132,138,144,150,156,162,168,174,180,186,192,198,204,210,216,222],"labelExpr":"'' + ((14 + floor(datum.value / 6)) % 24)","labelAlign":"left","labelOffset":2,"labelBaseline":"middle","labelPadding":-5,"tickSize":11,"tickColor":"#6a6a6a","tickWidth":1,"domain":false,"grid":false,"labelColor":"#e0e0e0","labelFont":"Liberation Sans","labelFontSize":10,"labelOverlap":false,"labelBound":false,"labelFlush":false}},
  "x2":{"datum":230.5},
  "y":{"datum":97.16,"type":"quantitative","scale":{"domain":[1.16,97.16],"nice":false,"zero":false},"axis":null}}},
{"data":{"values":[{"t":"RSI(14,80,20)"}]},"mark":{"type":"text","align":"left","baseline":"middle","dx":1,"fontSize":9,"color":"#d0d0d0"},
 "encoding":{
  "x":{"datum":-0.75,"type":"quantitative","scale":{"domain":[-0.75,230.5],"nice":false,"zero":false},
   "axis":{"title":null,"values":[0,6,12,18,24,30,36,42,48,54,60,66,72,78,84,90,96,102,108,114,120,126,132,138,144,150,156,162,168,174,180,186,192,198,204,210,216,222],"labelExpr":"'' + ((14 + floor(datum.value / 6)) % 24)","labelAlign":"left","labelOffset":2,"labelBaseline":"middle","labelPadding":-5,"tickSize":11,"tickColor":"#6a6a6a","tickWidth":1,"domain":false,"grid":false,"labelColor":"#e0e0e0","labelFont":"Liberation Sans","labelFontSize":10,"labelOverlap":false,"labelBound":false,"labelFlush":false}},
  "y":{"datum":89.5,"type":"quantitative","scale":{"domain":[1.16,97.16],"nice":false,"zero":false},"axis":null},
  "text":{"field":"t"}}},
{"data":{"values":[{"r":52.76}]},"mark":{"type":"point","shape":"M-1,-0.42H1V0.42H-1Z","size":676,"filled":true,"fill":"#f2e03a","opacity":1},
 "encoding":{
  "x":{"datum":220.65,"type":"quantitative","scale":{"domain":[-0.75,230.5],"nice":false,"zero":false},
   "axis":{"title":null,"values":[0,6,12,18,24,30,36,42,48,54,60,66,72,78,84,90,96,102,108,114,120,126,132,138,144,150,156,162,168,174,180,186,192,198,204,210,216,222],"labelExpr":"'' + ((14 + floor(datum.value / 6)) % 24)","labelAlign":"left","labelOffset":2,"labelBaseline":"middle","labelPadding":-5,"tickSize":11,"tickColor":"#6a6a6a","tickWidth":1,"domain":false,"grid":false,"labelColor":"#e0e0e0","labelFont":"Liberation Sans","labelFontSize":10,"labelOverlap":false,"labelBound":false,"labelFlush":false}},
  "y":{"field":"r","type":"quantitative","scale":{"domain":[1.16,97.16],"nice":false,"zero":false},"axis":null}}},
{"data":{"values":[{"r":52.76,"t":"52.19"}]},"mark":{"type":"text","align":"center","baseline":"middle","fontSize":10,"color":"#000000"},
 "encoding":{
  "x":{"datum":220.65,"type":"quantitative","scale":{"domain":[-0.75,230.5],"nice":false,"zero":false},
   "axis":{"title":null,"values":[0,6,12,18,24,30,36,42,48,54,60,66,72,78,84,90,96,102,108,114,120,126,132,138,144,150,156,162,168,174,180,186,192,198,204,210,216,222],"labelExpr":"'' + ((14 + floor(datum.value / 6)) % 24)","labelAlign":"left","labelOffset":2,"labelBaseline":"middle","labelPadding":-5,"tickSize":11,"tickColor":"#6a6a6a","tickWidth":1,"domain":false,"grid":false,"labelColor":"#e0e0e0","labelFont":"Liberation Sans","labelFontSize":10,"labelOverlap":false,"labelBound":false,"labelFlush":false}},
  "y":{"field":"r","type":"quantitative","scale":{"domain":[1.16,97.16],"nice":false,"zero":false},"axis":null},
  "text":{"field":"t"}}},
{"data":{"values":[{"i":60,"t":"11/25"},{"i":204,"t":"11/26"}]},"mark":{"type":"text","align":"left","baseline":"middle","dx":2,"fontSize":10,"color":"#d8d8d8"},
 "encoding":{
  "x":{"field":"i","type":"quantitative","scale":{"domain":[-0.75,230.5],"nice":false,"zero":false},
   "axis":{"title":null,"values":[0,6,12,18,24,30,36,42,48,54,60,66,72,78,84,90,96,102,108,114,120,126,132,138,144,150,156,162,168,174,180,186,192,198,204,210,216,222],"labelExpr":"'' + ((14 + floor(datum.value / 6)) % 24)","labelAlign":"left","labelOffset":2,"labelBaseline":"middle","labelPadding":-5,"tickSize":11,"tickColor":"#6a6a6a","tickWidth":1,"domain":false,"grid":false,"labelColor":"#e0e0e0","labelFont":"Liberation Sans","labelFontSize":10,"labelOverlap":false,"labelBound":false,"labelFlush":false}},
  "y":{"datum":7.2,"type":"quantitative","scale":{"domain":[1.16,97.16],"nice":false,"zero":false},"axis":null},
  "text":{"field":"t"}}},
{"data":{"values":[{"t":"⊠"}]},"mark":{"type":"text","align":"center","baseline":"middle","font":"DejaVu Sans","fontSize":10,"color":"#a0a0a0"},
 "encoding":{
  "x":{"datum":227.9,"type":"quantitative","scale":{"domain":[-0.75,230.5],"nice":false,"zero":false},
   "axis":{"title":null,"values":[0,6,12,18,24,30,36,42,48,54,60,66,72,78,84,90,96,102,108,114,120,126,132,138,144,150,156,162,168,174,180,186,192,198,204,210,216,222],"labelExpr":"'' + ((14 + floor(datum.value / 6)) % 24)","labelAlign":"left","labelOffset":2,"labelBaseline":"middle","labelPadding":-5,"tickSize":11,"tickColor":"#6a6a6a","tickWidth":1,"domain":false,"grid":false,"labelColor":"#e0e0e0","labelFont":"Liberation Sans","labelFontSize":10,"labelOverlap":false,"labelBound":false,"labelFlush":false}},
  "y":{"datum":90,"type":"quantitative","scale":{"domain":[1.16,97.16],"nice":false,"zero":false},"axis":null},
  "text":{"field":"t"}}}
]}
]
}
